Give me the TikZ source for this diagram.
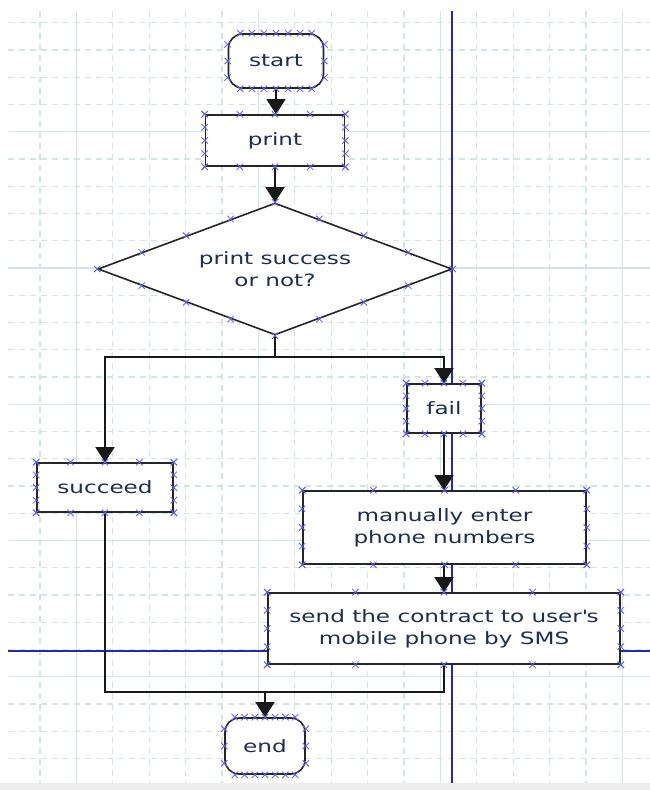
\documentclass[tikz,border=0pt]{standalone}
\usepackage{fontspec}
\newfontfamily\diafont{DejaVu Sans}[FakeStretch=1.36]
\usetikzlibrary{shapes.geometric,arrows.meta,calc}
\definecolor{gridc}{RGB}{212,228,228}
\definecolor{guide}{RGB}{40,40,175}
\definecolor{mk}{RGB}{95,95,235}
\definecolor{txt}{RGB}{30,45,80}
\tikzset{
  box/.style={draw=black!85, line width=1.6pt, fill=white, inner sep=0pt,
    font=\diafont\fontsize{17}{22}\selectfont, text=txt, align=center},
  rbox/.style={box, rounded corners=14pt},
  con/.style={line width=1.6pt, draw=black!90},
  arr/.style={con, -{Triangle[width=19pt,length=15pt]}},
  gmin/.style={draw=gridc, line width=1.1pt, dash pattern=on 6pt off 5pt},
  gmaj/.style={draw=gridc, line width=1.1pt},
  guideline/.style={draw=guide, line width=1.5pt},
  xm/.pic={\draw[mk, line width=0.8pt] (-3.2,-3.2) -- (3.2,3.2) (-3.2,3.2) -- (3.2,-3.2);}
}
\newcommand\rectmk[1]{%
  \foreach \t in {0,0.25,0.5,0.75,1}{%
    \path ($(#1.north west)!\t!(#1.north east)$) pic{xm}
          ($(#1.south west)!\t!(#1.south east)$) pic{xm}
          ($(#1.north west)!\t!(#1.south west)$) pic{xm}
          ($(#1.north east)!\t!(#1.south east)$) pic{xm};}}
\newcommand\roundmk[1]{%
  \foreach \t in {0.13,0.25,0.375,0.5,0.625,0.75,0.87}{%
    \path ($(#1.north west)!\t!(#1.north east)$) pic{xm}
          ($(#1.south west)!\t!(#1.south east)$) pic{xm};}
  \foreach \t in {0.2,0.5,0.8}{%
    \path ($(#1.north west)!\t!(#1.south west)$) pic{xm}
          ($(#1.north east)!\t!(#1.south east)$) pic{xm};}}
\newcommand\diamk[1]{%
  \foreach \t in {0,0.25,0.5,0.75}{%
    \path ($(#1.west)!\t!(#1.north)$) pic{xm}
          ($(#1.north)!\t!(#1.east)$) pic{xm}
          ($(#1.east)!\t!(#1.south)$) pic{xm}
          ($(#1.south)!\t!(#1.west)$) pic{xm};}}
\begin{document}
\begin{tikzpicture}[x=1pt,y=-1pt]
  % canvas
  \fill[white] (0,0) rectangle (650,790);
  \useasboundingbox (0,0) rectangle (650,790);
  \fill[black!7] (0,783) rectangle (650,790);
  % grid
  \foreach \j in {0,2,3,4,5,7,8,9,10,12,13,14,15}
    \draw[gmin] ({40+36.4*\j},11) -- ({40+36.4*\j},783);
  \foreach \j in {1,6,11,16}
    \draw[gmaj] ({40+36.4*\j},11) -- ({40+36.4*\j},783);
  \foreach \k in {0,1,2,3,5,6,7,8,10,11,12,13,15,16,17,18,20,21,22,23,25,26,27}
    \draw[gmin] (8,{22.7+27.25*\k}) -- (650,{22.7+27.25*\k});
  \foreach \k in {4,9,14,19,24}
    \draw[gmaj] (8,{22.7+27.25*\k}) -- (650,{22.7+27.25*\k});
  % guide lines
  \coordinate (gt) at (452,11);
  \coordinate (gb) at (452,783);
  \coordinate (gl) at (8,651);
  \coordinate (gr) at (650,651);
  \draw[guideline] (gt) -- (gb);
  \draw[guideline] (gl) -- (gr);
  % nodes
  \node[rbox, minimum width=95pt, minimum height=54pt] (start) at (276,61) {start};
  \node[box, minimum width=139pt, minimum height=51pt] (print) at (275,140.5) {print};
  \node[box, diamond, aspect=2.68, minimum width=354pt, minimum height=132pt] (dia) at (275,269) {print success\\or not?};
  \node[box, minimum width=74pt, minimum height=49pt] (fail) at (444,408.5) {fail};
  \node[box, minimum width=136pt, minimum height=49pt] (succ) at (105,487.5) {succeed};
  \node[box, minimum width=283pt, minimum height=73pt] (manual) at (444.5,527.5) {manually enter\\phone numbers};
  \node[box, minimum width=352pt, minimum height=71pt] (sms) at (444,628.5) {send the contract to user\textquotesingle s\\mobile phone by SMS};
  \node[rbox, minimum width=80pt, minimum height=56pt] (end) at (265,746) {end};
  % connectors
  \coordinate (br) at (275,357);
  \coordinate (j) at (265,692);
  \draw[arr] (start.south) -- (start.south |- print.north);
  \draw[arr] (print.south) -- (dia.north);
  \draw[con] (dia.south) -- (br);
  \draw[arr] (br) -| (succ.north);
  \draw[arr] (br) -| (fail.north);
  \draw[arr] (fail.south) -- (fail.south |- manual.north);
  \draw[arr] (fail.south |- manual.south) -- (fail.south |- sms.north);
  \draw[con] (succ.south) |- (j);
  \draw[con] (fail.south |- sms.south) |- (j);
  \draw[arr] (j) -- (end.north);
  % connection point marks
  \roundmk{start}
  \roundmk{end}
  \rectmk{print}
  \rectmk{fail}
  \rectmk{succ}
  \rectmk{manual}
  \rectmk{sms}
  \diamk{dia}
\end{tikzpicture}
\end{document}
